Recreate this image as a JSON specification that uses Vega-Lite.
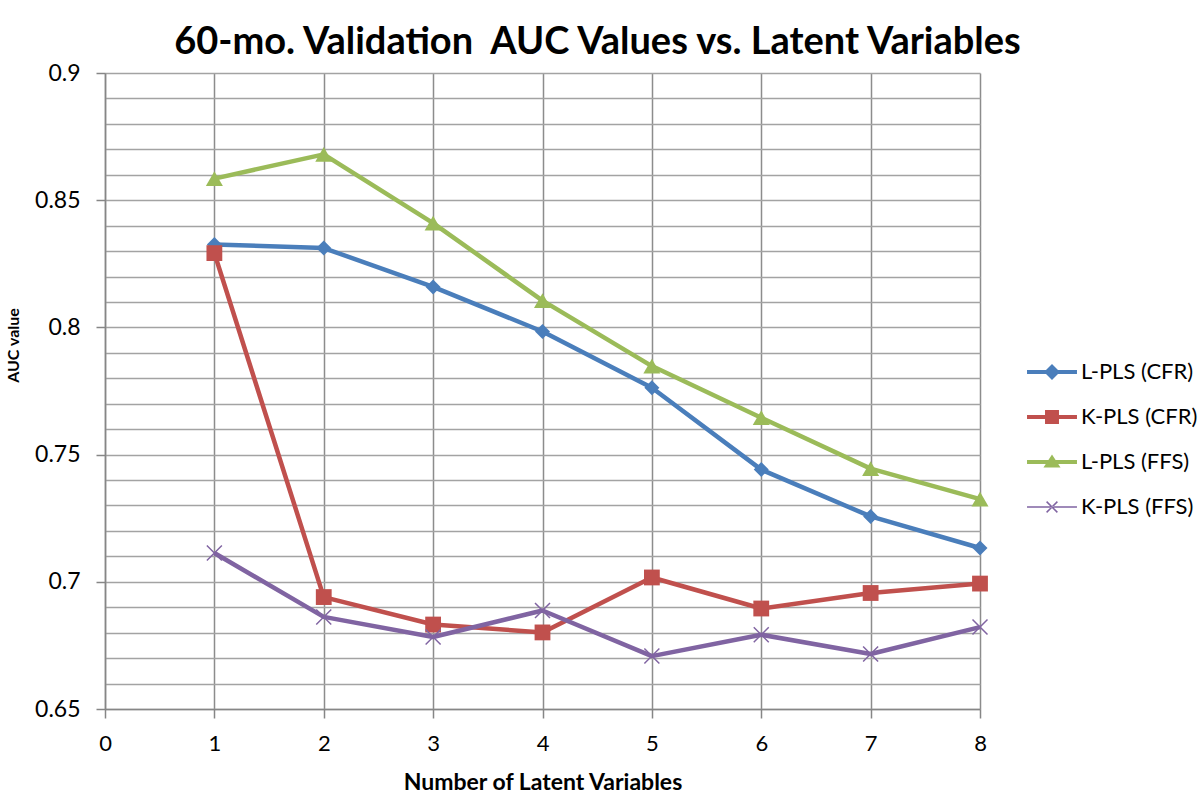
{
  "$schema": "https://vega.github.io/schema/vega-lite/v6.json",
  "width": 875,
  "height": 636,
  "autosize": {"type": "none"},
  "padding": {"left": 105, "top": 73, "right": 220, "bottom": 84},
  "background": "white",
  "title": {
    "text": "60-mo. Validation\u00a0 AUC Values vs. Latent Variables",
    "font": "Lato",
    "fontSize": 38,
    "fontWeight": "bold",
    "color": "#000000",
    "anchor": "middle",
    "frame": "group",
    "dx": 55,
    "offset": 0
  },
  "config": {"view": {"stroke": null}},
  "data": {
    "values": [
      {"series": "L-PLS (CFR)", "n": 1, "auc": 0.8326},
      {"series": "L-PLS (CFR)", "n": 2, "auc": 0.8312},
      {"series": "L-PLS (CFR)", "n": 3, "auc": 0.8159},
      {"series": "L-PLS (CFR)", "n": 4, "auc": 0.7984},
      {"series": "L-PLS (CFR)", "n": 5, "auc": 0.7763},
      {"series": "L-PLS (CFR)", "n": 6, "auc": 0.7441},
      {"series": "L-PLS (CFR)", "n": 7, "auc": 0.7257},
      {"series": "L-PLS (CFR)", "n": 8, "auc": 0.7133},
      {"series": "K-PLS (CFR)", "n": 1, "auc": 0.8292},
      {"series": "K-PLS (CFR)", "n": 2, "auc": 0.694},
      {"series": "K-PLS (CFR)", "n": 3, "auc": 0.6832},
      {"series": "K-PLS (CFR)", "n": 4, "auc": 0.6801},
      {"series": "K-PLS (CFR)", "n": 5, "auc": 0.7017},
      {"series": "K-PLS (CFR)", "n": 6, "auc": 0.6895},
      {"series": "K-PLS (CFR)", "n": 7, "auc": 0.6956},
      {"series": "K-PLS (CFR)", "n": 8, "auc": 0.6993},
      {"series": "L-PLS (FFS)", "n": 1, "auc": 0.8585},
      {"series": "L-PLS (FFS)", "n": 2, "auc": 0.868},
      {"series": "L-PLS (FFS)", "n": 3, "auc": 0.841},
      {"series": "L-PLS (FFS)", "n": 4, "auc": 0.8105},
      {"series": "L-PLS (FFS)", "n": 5, "auc": 0.7848},
      {"series": "L-PLS (FFS)", "n": 6, "auc": 0.7645},
      {"series": "L-PLS (FFS)", "n": 7, "auc": 0.7445},
      {"series": "L-PLS (FFS)", "n": 8, "auc": 0.7325},
      {"series": "K-PLS (FFS)", "n": 1, "auc": 0.7113},
      {"series": "K-PLS (FFS)", "n": 2, "auc": 0.6862},
      {"series": "K-PLS (FFS)", "n": 3, "auc": 0.6783},
      {"series": "K-PLS (FFS)", "n": 4, "auc": 0.6887},
      {"series": "K-PLS (FFS)", "n": 5, "auc": 0.6708},
      {"series": "K-PLS (FFS)", "n": 6, "auc": 0.6792},
      {"series": "K-PLS (FFS)", "n": 7, "auc": 0.6716},
      {"series": "K-PLS (FFS)", "n": 8, "auc": 0.6822}
    ]
  },
  "encoding": {
    "x": {
      "field": "n",
      "type": "quantitative",
      "scale": {"domain": [0, 8], "nice": false, "zero": false},
      "axis": {
        "values": [0, 1, 2, 3, 4, 5, 6, 7, 8],
        "format": "d",
        "title": "Number of Latent Variables",
        "titleFont": "Lato",
        "titleFontSize": 23,
        "titleFontWeight": "bold",
        "titleColor": "#000000",
        "titlePadding": 17,
        "labelFont": "Lato",
        "labelFontSize": 22,
        "labelColor": "#000000",
        "labelPadding": 15,
        "labelFlush": false,
        "labelOverlap": false,
        "tickSize": 9,
        "tickColor": "#868686",
        "tickWidth": 1.5,
        "domainColor": "#868686",
        "domainWidth": 1.5,
        "grid": true,
        "gridColor": "#8c8c8c",
        "gridWidth": 1.5
      }
    },
    "y": {
      "field": "auc",
      "type": "quantitative",
      "scale": {"domain": [0.65, 0.9], "nice": false, "zero": false},
      "axis": {
        "values": [0.65, 0.66, 0.67, 0.68, 0.69, 0.7, 0.71, 0.72, 0.73, 0.74, 0.75, 0.76, 0.77, 0.78, 0.79, 0.8, 0.81, 0.82, 0.83, 0.84, 0.85, 0.86, 0.87, 0.88, 0.89, 0.9],
        "format": ".2~f",
        "labelExpr": "abs(round(datum.value * 100)) % 5 == 0 ? datum.label : ''",
        "title": "AUC value",
        "titleFont": "Lato",
        "titleFontSize": 16,
        "titleFontWeight": "bold",
        "titleColor": "#000000",
        "titleX": -92,
        "titleY": 272,
        "titleAlign": "center",
        "titleBaseline": "middle",
        "titleAngle": 270,
        "labelFont": "Lato",
        "labelFontSize": 23,
        "labelColor": "#000000",
        "labelPadding": 16,
        "labelFlush": false,
        "labelOverlap": false,
        "tickSize": 9,
        "tickColor": "#868686",
        "tickWidth": 1.5,
        "tickOpacity": {"condition": {"test": "abs(round(datum.value * 100)) % 5 == 0", "value": 1}, "value": 0},
        "domainColor": "#868686",
        "domainWidth": 1.5,
        "grid": true,
        "gridColor": "#a3a3a3",
        "gridWidth": 1.3
      }
    }
  },
  "layer": [
    {
      "mark": {"type": "line", "strokeWidth": 4.5, "strokeJoin": "round"},
      "encoding": {
        "color": {
          "field": "series",
          "type": "nominal",
          "scale": {
            "domain": ["L-PLS (CFR)", "K-PLS (CFR)", "L-PLS (FFS)", "K-PLS (FFS)"],
            "range": ["#4A7EBB", "#C0504D", "#9BBB59", "#8064A2"]
          },
          "legend": {
            "orient": "none",
            "legendX": 924.5,
            "legendY": 276.5,
            "padding": 0,
            "title": null,
            "labelFont": "Lato",
            "labelFontSize": 22,
            "labelColor": "#000000",
            "labelOffset": 6.5,
            "symbolType": "stroke",
            "symbolSize": 2025,
            "symbolStrokeWidth": 0,
            "rowPadding": 11,
            "encode": {
              "symbols": {
                "update": {
                  "shape": {"signal": "datum.value === 'L-PLS (CFR)' ? 'M-1.11,-0.09L1.11,-0.09L1.11,0.09L-1.11,0.09ZM0,-0.355L0.355,0L0,0.355L-0.355,0Z' : datum.value === 'K-PLS (CFR)' ? 'M-1.11,-0.09L1.11,-0.09L1.11,0.09L-1.11,0.09ZM-0.31,-0.31L0.31,-0.31L0.31,0.31L-0.31,0.31Z' : datum.value === 'L-PLS (FFS)' ? 'M-1.11,-0.09L1.11,-0.09L1.11,0.09L-1.11,0.09ZM0,-0.33L0.38,0.24L-0.38,0.24Z' : 'M-1.11,-0.033L1.11,-0.033L1.11,0.033L-1.11,0.033ZM-0.2165,-0.2635L0.2635,0.2165L0.2165,0.2635L-0.2635,-0.2165ZM-0.2165,0.2635L0.2635,-0.2165L0.2165,-0.2635L-0.2635,0.2165Z'"},
                  "fill": {"scale": "color", "field": "value"},
                  "fillOpacity": {"value": 1},
                  "strokeWidth": {"value": 0}
                }
              }
            }
          }
        }
      }
    },
    {
      "transform": [{"filter": "datum.series === 'L-PLS (CFR)'"}],
      "mark": {"type": "point", "shape": "diamond", "filled": true, "size": 225, "color": "#4A7EBB", "opacity": 1}
    },
    {
      "transform": [{"filter": "datum.series === 'K-PLS (CFR)'"}],
      "mark": {"type": "point", "shape": "square", "filled": true, "size": 250, "color": "#C0504D", "opacity": 1}
    },
    {
      "transform": [{"filter": "datum.series === 'L-PLS (FFS)'"}],
      "mark": {"type": "point", "shape": "triangle-up", "filled": true, "size": 290, "color": "#9BBB59", "opacity": 1}
    },
    {
      "transform": [{"filter": "datum.series === 'K-PLS (FFS)'"}],
      "mark": {"type": "point", "shape": "M-1,-1L1,1M-1,1L1,-1", "filled": false, "size": 225, "color": "#8064A2", "strokeWidth": 1.5, "opacity": 1}
    }
  ]
}
